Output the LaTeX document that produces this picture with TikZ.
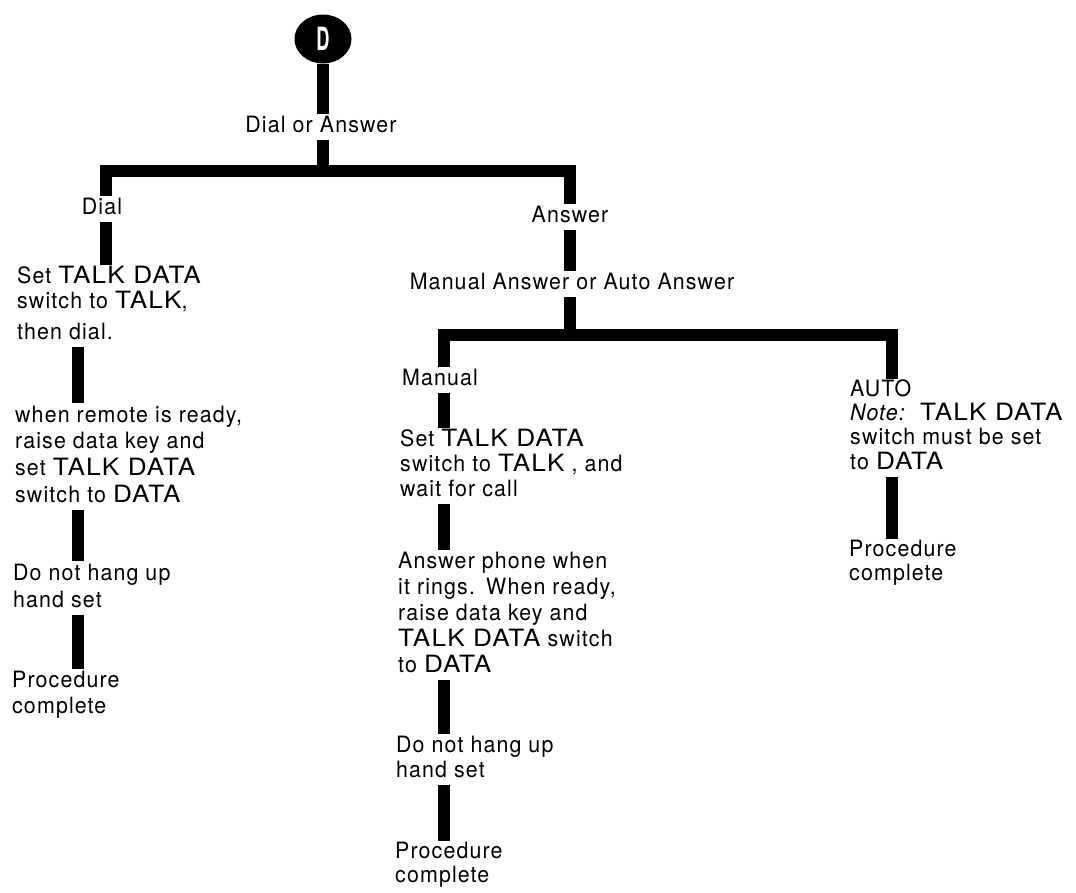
\documentclass[tikz,border=0pt]{standalone}
\usepackage{fontspec}
\usepackage{graphicx}
\setmainfont{TeX Gyre Heros}[FakeStretch=0.95,LetterSpace=5]
\newfontfamily\capfont{TeX Gyre Heros}[FakeStretch=1.1,LetterSpace=5]
\usetikzlibrary{shapes.geometric}
\newcommand\Cap[1]{{\capfont\fontsize{23.8}{25}\selectfont #1}}
\newcommand\ml[1]{\begin{tabular}[t]{@{}l@{}}#1\end{tabular}}
\begin{document}
\begin{tikzpicture}[x=1pt,y=-1pt,
  bar/.style={line width=12.5pt},
  fnt/.style={font=\fontsize{22.5}{#1}\selectfont},
  fnt/.default=25,
  txt/.style={inner sep=0pt, anchor=base west, fnt},
  lbl/.style={inner sep=0pt, anchor=base, fnt},
  ell/.style={ellipse, fill=black, inner sep=0pt, minimum width=57pt, minimum height=49pt}]
\useasboundingbox (0,0) rectangle (1076,892);

% header
\node[ell] (D) at (323,39) {\textcolor{white}{\scalebox{0.6}[1]{\fontsize{32}{32}\selectfont\bfseries D}}};
\node[lbl] (doa) at (321,132) {\ml{Dial or Answer}};
\coordinate (j1) at (323,171);
\node[lbl] (dial) at (102,214) {\ml{Dial}};
\node[lbl] (answer) at (570,222) {\ml{Answer}};

% left column
\node[txt] (l1) at (17,283) {\ml{Set \Cap{TALK DATA}\\switch to \Cap{TALK},\\[6pt]then dial.}};
\node[txt, fnt=26.7] (l2) at (15,422) {\ml{when remote is ready,\\raise data key and\\set \Cap{TALK DATA}\\switch to \Cap{DATA}}};
\node[txt, fnt=27] (l3) at (13,580) {\ml{Do not hang up\\hand set}};
\node[txt, fnt=26] (l4) at (12,687) {\ml{Procedure\\complete}};

% answer branch
\node[lbl] (mao) at (572,289) {\ml{Manual Answer or Auto Answer}};
\coordinate (j2) at (570,335);
\node[txt] (manual) at (402,385) {\ml{Manual}};
\node[txt] (m1) at (400,446) {\ml{Set \Cap{TALK DATA}\\switch to \Cap{TALK} , and\\wait for call}};
\node[txt, fnt=26] (m2) at (398,568) {\ml{Answer phone when\\it rings.\enspace When ready,\\raise data key and\\\Cap{TALK DATA} switch\\to \Cap{DATA}}};
\node[txt] (m3) at (396,752) {\ml{Do not hang up\\hand set}};
\node[txt, fnt=24] (m4) at (395,858) {\ml{Procedure\\complete}};

\node[txt, fnt=24.3] (auto) at (850,396) {\ml{AUTO\\\textit{Note:}\ \ \Cap{TALK DATA}\\switch must be set\\to \Cap{DATA}}};
\node[txt, fnt=24] (a2) at (849,556) {\ml{Procedure\\complete}};

% x positions of connectors
\coordinate (xD) at (106,0);
\coordinate (xl) at (78,0);
\coordinate (xm) at (444,0);
\coordinate (xa) at (892,0);

% connectors
\draw[bar] (D.south) -- (doa.north -| D.south);
\draw[bar] (doa.south -| j1) -- (j1);
\draw[bar] (dial.north -| xD) |- (j1) -| (answer.north);
\draw[bar] (dial.south -| xD) -- (l1.north -| xD);
\draw[bar] (l1.south -| xl) -- (l2.north -| xl);
\draw[bar] (l2.south -| xl) -- (l3.north -| xl);
\draw[bar] (l3.south -| xl) -- (l4.north -| xl);

\draw[bar] (answer.south) -- (mao.north -| answer.south);
\draw[bar] (mao.south -| j2) -- (j2);
\draw[bar] (manual.north -| xm) |- (j2) -| (auto.north -| xa);
\draw[bar] (manual.south -| xm) -- (m1.north -| xm);
\draw[bar] (m1.south -| xm) -- (m2.north -| xm);
\draw[bar] (m2.south -| xm) -- (m3.north -| xm);
\draw[bar] (m3.south -| xm) -- (m4.north -| xm);
\draw[bar] (auto.south -| xa) -- (a2.north -| xa);
\end{tikzpicture}
\end{document}
